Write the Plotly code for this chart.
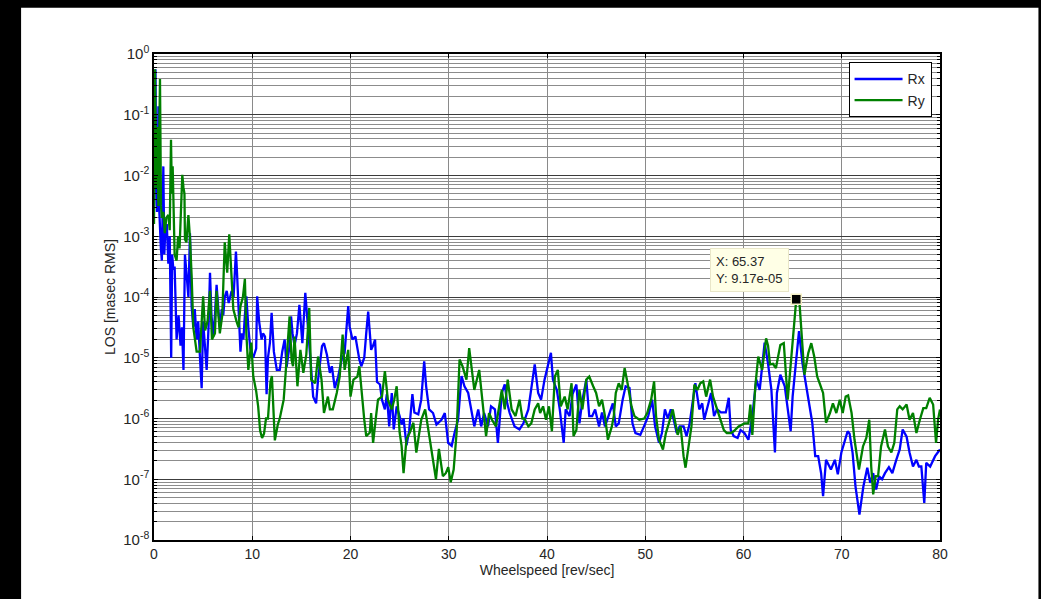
import math
import plotly.graph_objects as go

# ---------------- data ----------------
rx_speed = [0.0, 0.08, 0.15, 0.22, 0.3, 0.38, 0.45, 0.52, 0.6, 0.7, 0.8, 0.95, 1.05, 1.15, 1.3, 1.46, 1.6, 1.75, 1.85, 1.97,
            2.1, 2.3, 2.5, 2.7, 2.85, 3.0, 3.15, 3.3, 3.5, 3.66, 3.83, 4.0, 4.15, 4.34, 4.5, 4.68, 4.85, 5.0, 5.15, 5.36,
            5.55, 5.7, 5.85, 6.03, 6.2, 6.37, 6.55, 6.7, 6.9, 7.05, 7.2, 7.4, 7.6, 7.9, 8.1, 8.34, 8.45, 8.6, 8.8, 8.95,
            9.1, 9.25, 9.4, 9.6, 9.8, 10.1, 10.3, 10.4, 10.5, 10.7, 10.95, 11.1, 11.3, 11.46, 11.6, 11.8, 11.97, 12.2, 12.5, 12.8,
            13.05, 13.3, 13.5, 13.8, 13.95, 14.1, 14.3, 14.55, 14.8, 15.1, 15.4, 15.7, 15.9, 16.2, 16.5, 16.7, 17.1, 17.3, 17.6, 17.9,
            18.1, 18.4, 18.75, 19.1, 19.4, 19.6, 19.77, 19.9, 20.2, 20.5, 20.9, 21.1, 21.4, 21.6, 21.8, 22.1, 22.3, 22.5, 22.7, 23.0,
            23.2, 23.5, 23.7, 23.94, 24.2, 24.4, 24.7, 25.0, 25.2, 25.4, 25.7, 25.97, 26.3, 26.5, 26.9, 27.2, 27.5, 27.7, 28.0, 28.4,
            28.75, 29.26, 29.6, 29.94, 30.3, 30.6, 30.95, 31.3, 31.6, 31.98, 32.3, 32.6, 33.0, 33.3, 33.6, 34.0, 34.3, 34.7, 35.0, 35.4,
            35.7, 35.95, 36.2, 36.7, 37.2, 37.6, 38.1, 38.4, 38.75, 39.1, 39.4, 39.75, 40.1, 40.4, 40.6, 41.0, 41.3, 41.7, 41.9, 42.3,
            42.6, 42.99, 43.3, 43.6, 44.0, 44.3, 44.6, 44.9, 45.3, 45.6, 45.9, 46.2, 46.4, 46.7, 47.0, 47.3, 47.7, 48.0, 48.4, 48.7,
            49.0, 49.5, 50.0, 50.3, 50.7, 51.0, 51.4, 51.7, 52.0, 52.3, 52.6, 52.9, 53.2, 53.5, 53.9, 54.2, 54.5, 54.9, 55.1, 55.5,
            55.8, 56.0, 56.3, 56.7, 57.0, 57.3, 57.7, 58.2, 58.5, 58.7, 59.0, 59.4, 59.7, 60.1, 60.5, 60.9, 61.3, 61.65, 62.15, 62.5,
            62.84, 63.2, 63.4, 63.75, 64.2, 64.5, 64.8, 65.0, 65.4, 65.65, 66.0, 66.4, 66.7, 67.0, 67.3, 67.6, 67.9, 68.1, 68.4, 68.7,
            68.9, 69.3, 69.6, 69.96, 70.3, 70.6, 70.8, 71.1, 71.4, 71.8, 72.2, 72.6, 72.9, 73.2, 73.5, 73.8, 74.1, 74.4, 74.8, 75.15,
            75.55, 75.9, 76.2, 76.6, 76.9, 77.25, 77.6, 77.85, 78.1, 78.4, 78.6, 79.0, 79.5, 80.0]
rx_los_log10 = [-2.5, -0.9, -0.25, -2.0, -2.6, -2.2, -0.86, -2.5, -2.9, -3.2, -3.4, -1.85, -3.3, -2.9, -2.8, -3.45, -3.0, -5.0, -3.3, -3.55,
                -3.5, -4.7, -4.3, -4.8, -4.5, -5.2, -3.3, -3.6, -4.0, -2.95, -4.15, -4.5, -4.2, -4.7, -4.4, -5.0, -5.5, -4.4, -4.8, -5.2,
                -4.5, -3.6, -4.3, -4.65, -4.3, -3.8, -4.2, -4.5, -4.2, -4.3, -4.0, -3.9, -4.1, -3.9, -4.0, -3.25, -3.6, -4.15, -4.9, -4.6,
                -4.7, -4.3, -3.99, -4.5, -4.85, -5.0, -4.9, -4.85, -3.99, -4.4, -4.7, -4.6, -4.65, -5.6, -5.0, -4.75, -4.26, -4.9, -5.2, -5.2,
                -4.9, -4.7, -5.15, -4.8, -4.32, -4.6, -4.8, -4.6, -4.13, -4.76, -3.93, -4.48, -4.98, -5.64, -5.75, -5.36, -4.81, -4.76, -4.95, -5.25,
                -5.14, -5.5, -5.31, -5.03, -4.92, -4.5, -4.15, -4.48, -4.7, -4.65, -5.03, -5.14, -5.0, -4.6, -4.24, -4.87, -4.8, -4.7, -5.4, -5.44,
                -5.69, -5.85, -5.6, -6.13, -5.58, -6.18, -5.8, -5.96, -6.1, -6.0, -6.44, -6.2, -5.6, -5.9, -5.93, -5.69, -5.06, -5.47, -5.85, -5.91,
                -6.1, -6.02, -5.91, -6.4, -6.45, -6.23, -6.02, -5.3, -5.47, -5.58, -5.85, -6.13, -5.85, -6.13, -5.91, -6.13, -5.8, -5.85, -6.4, -5.58,
                -5.44, -5.75, -5.91, -6.13, -6.18, -6.08, -5.85, -5.47, -5.11, -5.58, -5.69, -5.36, -5.14, -4.92, -5.36, -5.53, -5.85, -6.4, -5.85, -5.96,
                -5.6, -5.44, -6.08, -5.7, -5.36, -5.96, -5.96, -5.85, -6.13, -5.9, -6.13, -6.0, -5.9, -5.75, -6.13, -6.08, -5.69, -5.47, -5.5, -6.08,
                -6.24, -6.27, -6.08, -5.96, -5.69, -6.13, -6.4, -6.24, -5.85, -6.0, -5.85, -6.02, -6.24, -6.13, -6.13, -6.29, -6.1, -5.69, -5.42, -5.85,
                -5.75, -6.02, -5.85, -5.58, -5.96, -5.85, -5.9, -5.9, -5.66, -6.19, -6.29, -6.32, -6.19, -6.24, -6.35, -5.96, -5.36, -5.53, -4.75, -5.1,
                -5.53, -6.56, -5.58, -5.28, -5.47, -5.8, -6.21, -5.64, -4.92, -4.56, -5.09, -5.47, -5.75, -6.07, -6.62, -6.62, -6.9, -7.28, -6.68, -6.79,
                -6.84, -6.68, -6.92, -6.56, -6.35, -6.21, -6.25, -6.56, -7.12, -7.58, -7.12, -6.81, -7.06, -6.9, -7.17, -6.95, -7.0, -6.9, -6.8, -6.9,
                -6.68, -6.51, -6.18, -6.3, -6.56, -6.79, -6.68, -6.79, -6.79, -7.39, -6.73, -6.79, -6.62, -6.51]

ry_speed = [0.0, 0.1, 0.2, 0.27, 0.35, 0.45, 0.61, 0.71, 0.8, 0.95, 1.1, 1.25, 1.46, 1.6, 1.73, 1.82, 1.9, 2.03, 2.1, 2.3,
            2.45, 2.6, 2.75, 2.88, 3.0, 3.1, 3.15, 3.3, 3.5, 3.65, 3.83, 4.0, 4.34, 4.68, 5.0, 5.2, 5.45, 5.7, 5.9, 6.2,
            6.37, 6.55, 6.7, 6.95, 7.2, 7.35, 7.45, 7.66, 7.85, 8.07, 8.4, 8.6, 8.8, 9.05, 9.25, 9.4, 9.6, 9.9, 10.1, 10.4,
            10.6, 10.8, 11.0, 11.2, 11.4, 11.6, 11.85, 12.0, 12.3, 12.6, 12.8, 13.2, 13.4, 13.6, 13.8, 14.0, 14.15, 14.3, 14.6, 14.9,
            15.2, 15.5, 15.8, 16.0, 16.4, 16.7, 17.05, 17.3, 17.7, 17.9, 18.2, 18.6, 18.9, 19.2, 19.4, 19.77, 20.0, 20.3, 20.7, 20.9,
            21.1, 21.4, 21.6, 21.97, 22.1, 22.3, 22.6, 22.8, 23.2, 23.5, 23.8, 24.2, 24.45, 24.7, 25.0, 25.2, 25.4, 25.7, 26.04, 26.4,
            26.7, 27.2, 27.6, 28.0, 28.4, 28.7, 29.0, 29.4, 29.7, 29.95, 30.2, 30.5, 30.8, 31.1, 31.4, 31.8, 32.08, 32.3, 32.6, 33.1,
            33.35, 33.8, 34.1, 34.4, 34.8, 35.4, 35.7, 36.0, 36.4, 36.8, 37.2, 37.5, 37.7, 38.1, 38.4, 38.75, 39.1, 39.3, 39.6, 39.9,
            40.2, 40.5, 40.8, 41.1, 41.4, 41.8, 42.1, 42.5, 42.7, 42.99, 43.3, 43.6, 44.0, 44.3, 44.7, 45.0, 45.3, 45.6, 45.9, 46.2,
            46.6, 46.8, 47.0, 47.3, 47.6, 47.9, 48.2, 48.6, 48.9, 49.4, 49.9, 50.2, 50.6, 50.9, 51.1, 51.4, 51.8, 52.1, 52.4, 52.8,
            53.0, 53.3, 53.6, 53.9, 54.1, 54.4, 54.7, 55.0, 55.3, 55.6, 55.9, 56.2, 56.6, 56.9, 57.3, 57.7, 58.0, 58.3, 58.7, 59.0,
            59.5, 60.1, 60.5, 60.7, 60.9, 61.2, 61.5, 61.9, 62.3, 62.5, 62.7, 63.0, 63.3, 63.75, 64.1, 64.5, 64.9, 65.2, 65.37, 65.7,
            66.0, 66.2, 66.6, 66.9, 67.2, 67.5, 67.75, 68.1, 68.4, 68.8, 69.1, 69.45, 69.8, 70.1, 70.4, 70.65, 71.0, 71.3, 71.75, 72.16,
            72.5, 72.8, 73.0, 73.2, 73.45, 73.7, 74.0, 74.4, 74.7, 75.05, 75.35, 75.65, 75.9, 76.2, 76.6, 76.9, 77.25, 77.6, 77.95, 78.3,
            78.6, 78.95, 79.3, 79.6, 79.8, 80.0]
ry_los_log10 = [-2.8, -0.25, -1.8, -2.2, -1.2, -2.5, -0.41, -2.5, -2.7, -2.6, -2.95, -2.7, -2.65, -2.9, -1.41, -2.3, -1.85, -2.6, -3.3, -3.4,
                -3.0, -3.2, -2.6, -1.99, -2.2, -2.3, -3.05, -3.1, -2.65, -3.0, -3.65, -4.5, -4.9, -4.9, -3.99, -4.55, -4.4, -3.9, -4.7, -4.6,
                -3.9, -4.3, -4.6, -4.3, -3.1, -3.4, -3.6, -2.97, -3.6, -4.2, -4.4, -4.5, -4.15, -4.0, -3.7, -4.6, -5.2, -4.75, -5.3, -5.55,
                -5.8, -6.2, -6.32, -6.25, -6.0, -6.0, -5.4, -5.3, -6.36, -6.1, -6.0, -5.69, -5.25, -4.8, -4.32, -5.03, -5.14, -4.65, -5.47, -4.87,
                -5.25, -4.95, -4.18, -5.36, -5.42, -4.98, -5.36, -5.91, -5.64, -5.85, -5.85, -5.58, -5.31, -4.62, -5.2, -4.87, -5.64, -5.36, -5.31, -5.14,
                -5.53, -6.02, -6.29, -6.23, -5.91, -6.4, -5.96, -5.69, -5.64, -5.22, -5.69, -5.85, -5.69, -5.47, -6.23, -6.45, -6.9, -6.34, -6.23, -6.07,
                -6.56, -6.02, -5.85, -6.29, -6.67, -7.0, -6.5, -6.95, -6.9, -6.8, -7.05, -6.84, -6.23, -5.03, -5.14, -5.36, -4.84, -5.14, -5.53, -5.2,
                -5.58, -6.29, -5.91, -6.02, -6.13, -5.53, -5.85, -5.36, -5.85, -5.96, -5.69, -6.0, -6.0, -6.13, -6.08, -5.85, -5.75, -5.91, -5.8, -6.02,
                -5.8, -6.21, -5.31, -5.2, -5.8, -5.64, -5.85, -5.42, -6.29, -6.19, -5.53, -5.85, -5.36, -5.31, -5.47, -5.58, -5.8, -5.69, -5.96, -6.35,
                -6.13, -5.96, -5.58, -5.42, -5.53, -5.17, -5.42, -5.8, -5.96, -6.02, -6.0, -5.91, -5.69, -5.39, -5.96, -6.35, -6.51, -6.24, -6.08, -5.85,
                -6.02, -6.27, -6.13, -6.62, -6.81, -6.46, -6.13, -5.44, -5.53, -5.42, -5.39, -5.64, -5.36, -5.64, -5.85, -6.02, -6.19, -6.24, -6.24, -6.21,
                -6.13, -6.08, -6.08, -5.77, -6.27, -5.47, -4.98, -5.2, -4.68, -4.8, -5.11, -5.1, -5.17, -4.79, -4.76, -5.69, -4.92, -4.43, -4.0376, -4.1,
                -4.81, -5.28, -4.92, -4.76, -4.98, -5.31, -5.42, -5.58, -6.07, -5.91, -5.75, -5.91, -5.69, -5.91, -5.64, -5.62, -5.91, -6.35, -6.84, -6.46,
                -6.32, -6.02, -6.79, -7.25, -6.95, -6.95, -6.46, -6.18, -6.46, -6.56, -6.4, -5.85, -5.8, -5.85, -5.77, -6.02, -5.91, -6.24, -6.02, -5.83,
                -5.83, -5.66, -5.77, -6.4, -6.02, -5.85]

datatip_x = 65.37
datatip_y = 9.17e-05

x_tick_vals = [0, 10, 20, 30, 40, 50, 60, 70, 80]
y_tick_exps = [-8, -7, -6, -5, -4, -3, -2, -1, 0]

rx_los = [10 ** v for v in rx_los_log10]
ry_los = [10 ** v for v in ry_los_log10]

# ---------------- figure ----------------
FONT = "Liberation Sans, Arial, Helvetica, sans-serif"
TXT = "#262626"
fig = go.Figure()

fig.add_trace(go.Scatter(x=rx_speed, y=rx_los, mode="lines", name="Rx", legendgroup="a",
                         line=dict(color="#0000FF", width=2.3)))
fig.add_trace(go.Scatter(x=ry_speed, y=ry_los, mode="lines", name="Ry", legendgroup="b",
                         line=dict(color="#008000", width=2.3)))
fig.add_trace(go.Scatter(x=[datatip_x], y=[datatip_y], mode="markers", showlegend=False,
                         marker=dict(symbol="square", size=10, color="black",
                                     line=dict(color="#F4EFC4", width=1.5))))

fig.add_annotation(x=datatip_x, y=math.log10(datatip_y), xref="x", yref="y",
                   text="X: %.2f<br>Y: %.2e" % (datatip_x, datatip_y), showarrow=False,
                   xanchor="right", yanchor="bottom", xshift=-7, yshift=7, align="left",
                   bgcolor="#FFFFE6", bordercolor="#E9E6C8", borderwidth=1, borderpad=5,
                   font=dict(family=FONT, size=13, color=TXT))

minor_vals = [m * 10 ** e for e in range(-8, 0) for m in range(2, 10)]

fig.update_xaxes(range=[0, 80], tickvals=x_tick_vals, ticks="inside", ticklen=4, tickcolor="black",
                 showline=True, linecolor="black", linewidth=1.5, mirror="ticks",
                 showgrid=True, gridcolor="#8a8a8a", gridwidth=1, zeroline=False,
                 tickfont=dict(family=FONT, size=14, color=TXT),
                 title=dict(text="Wheelspeed [rev/sec]", standoff=5,
                            font=dict(family=FONT, size=14, color=TXT)))
fig.update_yaxes(type="log", range=[-8, 0], tickmode="array",
                 tickvals=[10 ** e for e in y_tick_exps],
                 ticktext=["10<sup>%d</sup>" % e for e in y_tick_exps],
                 ticks="inside", ticklen=4, tickcolor="black",
                 showline=True, linecolor="black", linewidth=1.5, mirror="ticks",
                 showgrid=True, gridcolor="#3c3c3c", gridwidth=1, zeroline=False,
                 minor=dict(tickvals=minor_vals, ticks="inside", ticklen=3, tickcolor="black",
                            showgrid=True, gridcolor="#8c8c8c", gridwidth=1),
                 tickfont=dict(family=FONT, size=15, color=TXT),
                 title=dict(text="LOS [masec RMS]", standoff=4,
                            font=dict(family=FONT, size=14, color=TXT)))

# black frame strips around the white figure area
L, T, W, H = 154.0, 54.3, 786.5, 486.0
def px(xp):
    return (xp - L) / W
def py(yp):
    return (T + H - yp) / H
for x0, x1, y0, y1 in [(-10, 21, -10, 610), (-10, 1050, -10, 8), (1039, 1050, -10, 610)]:
    fig.add_shape(type="rect", xref="paper", yref="paper", x0=px(x0), x1=px(x1), y0=py(y1), y1=py(y0),
                  fillcolor="black", line=dict(width=0), layer="above")

fig.update_layout(
    width=1041, height=599,
    margin=dict(l=154, r=1041 - 940.5, t=54.3, b=599 - 540.3, autoexpand=False),
    paper_bgcolor="white", plot_bgcolor="white",
    showlegend=True,
    legend=dict(x=px(849), y=py(62.7), xanchor="left", yanchor="top",
                bgcolor="white", bordercolor="black", borderwidth=1,
                font=dict(family=FONT, size=14, color=TXT),
                tracegroupgap=0, itemwidth=48),
    hovermode=False,
)

fig.write_html("out.html", config={"displayModeBar": False},
               post_script="document.body.style.margin='0';document.body.style.overflow='hidden';")
